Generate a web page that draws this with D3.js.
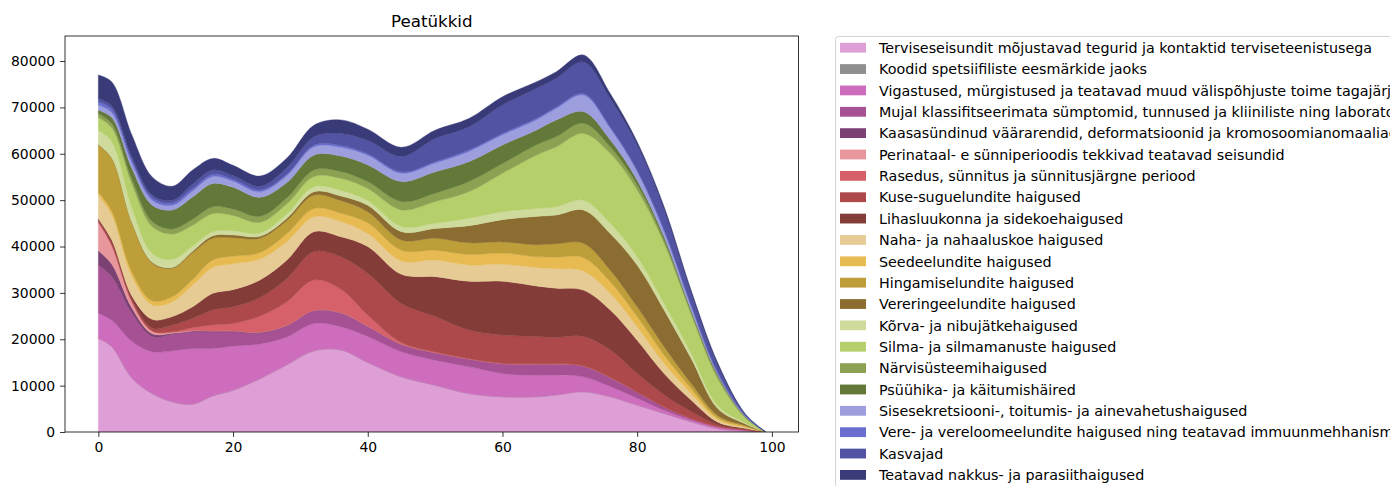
<!DOCTYPE html>
<html>
<head>
<meta charset="utf-8">
<script src="https://cdn.jsdelivr.net/npm/d3@7"></script>
<style>
  body { margin: 0; background: #ffffff; }
  svg { display: block; font-family: "DejaVu Sans", sans-serif; }
</style>
</head>
<body>
<svg id="chart" width="1390" height="486"></svg>
<script>
// Age (years) at which each diagnosis-chapter count is given
const ages = [0, 2, 5, 8, 11, 14, 17, 20, 24, 28, 32, 36, 40, 45, 50, 55, 60, 65, 68, 72, 76, 80, 84, 88, 92, 96, 99];

// Counts per chapter, listed from the bottom of the stack upward
const terviseseisundit = [20200, 18400, 11600, 8300, 6500, 6000, 7800, 9000, 11500, 14500, 17500, 17700, 15000, 11900, 10100, 8300, 7600, 7600, 8000, 8700, 7600, 5800, 4000, 2200, 700, 200, 5];
const koodid = [0, 0, 0, 0, 0, 0, 0, 0, 0, 0, 0, 0, 0, 0, 0, 0, 0, 0, 0, 0, 0, 0, 0, 0, 0, 0, 0];
const vigastused = [5400, 5700, 7900, 9000, 11000, 12000, 10200, 9500, 7500, 6000, 5900, 5000, 5600, 5400, 5400, 5800, 5000, 4700, 4300, 3200, 2200, 1500, 700, 400, 300, 150, 5];
const symptomid = [10400, 9400, 6100, 3300, 3600, 3600, 3600, 3100, 2300, 2400, 2700, 2900, 2100, 1500, 1500, 1600, 2100, 2300, 2300, 2300, 1900, 1300, 700, 300, 150, 100, 5];
const kaasasyndinud = [3100, 2700, 1100, 600, 200, 200, 200, 200, 200, 100, 100, 100, 100, 100, 100, 50, 50, 50, 50, 50, 50, 50, 50, 30, 10, 5, 0];
const perinataal = [6200, 4100, 1400, 600, 200, 100, 0, 0, 0, 0, 0, 0, 0, 0, 0, 0, 0, 0, 0, 0, 0, 0, 0, 0, 0, 0, 0];
const rasedus = [0, 0, 0, 0, 100, 600, 1300, 1600, 3500, 5100, 6600, 5100, 2400, 400, 150, 100, 100, 50, 50, 50, 50, 0, 0, 0, 0, 0, 0];
const kuseSuguelundid = [400, 500, 500, 600, 1500, 2000, 3200, 3600, 4000, 5000, 6100, 7000, 9000, 8400, 7650, 6150, 6050, 5900, 5700, 6300, 5900, 3950, 2550, 1470, 340, 145, 5];
const lihasluukond = [300, 600, 700, 1900, 1800, 2500, 3600, 3700, 3800, 4000, 4300, 4300, 5800, 6300, 8600, 10500, 11600, 10900, 10600, 10000, 8600, 7200, 4600, 2500, 600, 200, 10];
const nahk = [5100, 5400, 4200, 3100, 3200, 4700, 5600, 5600, 4500, 4000, 3200, 3300, 2800, 2900, 3600, 3500, 3700, 4000, 4200, 4100, 3600, 2900, 2200, 1400, 500, 200, 5];
const seedeelundid = [600, 800, 900, 900, 1100, 1200, 1600, 1600, 1400, 1700, 1800, 1800, 2300, 2300, 2100, 2300, 2400, 2300, 2500, 2900, 2500, 2200, 1800, 1100, 400, 200, 5];
const hingamiselundid = [10200, 11400, 10600, 8100, 6100, 5800, 4700, 4000, 3100, 2800, 2900, 2700, 2400, 2200, 2600, 2500, 2400, 2600, 2900, 3100, 2500, 2100, 1800, 1100, 500, 200, 5];
const vereringeelundid = [100, 100, 100, 200, 200, 300, 500, 600, 400, 500, 700, 1000, 1400, 1800, 2100, 3700, 4800, 6100, 6200, 7200, 7900, 9000, 7900, 5400, 1500, 400, 10];
const korv = [3100, 3500, 3200, 1900, 1700, 1100, 900, 900, 700, 900, 1100, 1200, 1000, 1100, 1100, 1600, 1700, 1700, 1800, 2100, 2200, 1800, 1400, 1100, 600, 200, 5];
const silm = [2700, 3000, 5200, 5800, 5500, 4500, 3900, 3300, 2300, 2200, 2200, 2600, 2600, 3600, 4700, 5700, 8300, 11500, 12900, 14400, 15100, 14400, 13000, 8400, 5800, 1100, 20];
const narvisysteem = [900, 900, 1000, 1100, 1100, 1300, 1500, 1400, 1300, 1300, 1400, 1500, 1500, 1800, 1800, 2200, 2100, 2200, 2200, 2200, 1400, 1100, 700, 500, 500, 200, 5];
const psyyhika = [700, 1300, 2300, 3500, 4100, 4800, 5000, 4700, 4100, 3300, 3200, 3300, 3600, 4300, 4600, 4300, 4000, 3200, 3600, 2500, 1500, 1000, 700, 400, 300, 100, 3];
const sisesekretsioon = [1100, 1100, 1200, 1100, 1000, 1300, 1500, 1300, 1200, 1500, 1800, 1900, 2100, 1800, 1900, 2200, 2200, 2200, 2500, 3600, 2500, 1900, 1200, 900, 300, 150, 2];
const veri = [700, 700, 600, 500, 500, 500, 500, 400, 400, 300, 350, 400, 300, 300, 300, 300, 300, 300, 300, 300, 300, 300, 300, 200, 200, 50, 2];
const kasvajad = [700, 700, 700, 600, 600, 1000, 900, 800, 800, 1400, 1800, 2600, 2900, 3300, 5000, 5000, 6100, 6500, 6200, 6800, 6100, 5400, 4300, 2500, 1500, 300, 5];
const nakkus = [5100, 5200, 4700, 3900, 3000, 3000, 2500, 2200, 2200, 2100, 2500, 2900, 2400, 2000, 1800, 1800, 1800, 1400, 1400, 1500, 1100, 700, 700, 700, 600, 100, 3];

const seriesValues = [terviseseisundit, koodid, vigastused, symptomid, kaasasyndinud, perinataal, rasedus,
  kuseSuguelundid, lihasluukond, nahk, seedeelundid, hingamiselundid, vereringeelundid, korv, silm,
  narvisysteem, psyyhika, sisesekretsioon, veri, kasvajad, nakkus];

const seriesNames = [
  "Terviseseisundit mõjustavad tegurid ja kontaktid terviseteenistusega",
  "Koodid spetsiifiliste eesmärkide jaoks",
  "Vigastused, mürgistused ja teatavad muud välispõhjuste toime tagajärjed",
  "Mujal klassifitseerimata sümptomid, tunnused ja kliiniliste ning laboratoorsete uuringute leiud",
  "Kaasasündinud väärarendid, deformatsioonid ja kromosoomianomaaliad",
  "Perinataal- e sünniperioodis tekkivad teatavad seisundid",
  "Rasedus, sünnitus ja sünnitusjärgne periood",
  "Kuse-suguelundite haigused",
  "Lihasluukonna ja sidekoehaigused",
  "Naha- ja nahaaluskoe haigused",
  "Seedeelundite haigused",
  "Hingamiselundite haigused",
  "Vereringeelundite haigused",
  "Kõrva- ja nibujätkehaigused",
  "Silma- ja silmamanuste haigused",
  "Närvisüsteemihaigused",
  "Psüühika- ja käitumishäired",
  "Sisesekretsiooni-, toitumis- ja ainevahetushaigused",
  "Vere- ja vereloomeelundite haigused ning teatavad immuunmehhanismihäired",
  "Kasvajad",
  "Teatavad nakkus- ja parasiithaigused"
];

const seriesColors = ["#de9ed6", "#8f8f8f", "#ce6dbd", "#a55194", "#7b4173", "#e7969c", "#d6616b",
  "#ad494a", "#843c39", "#e7cb94", "#e7ba52", "#bd9e39", "#8c6d31", "#cedb9c", "#b5cf6b",
  "#8ca252", "#637939", "#9c9ede", "#6b6ecf", "#5254a3", "#393b79"];

const xTicks = [0, 20, 40, 60, 80, 100];
const yTicks = [0, 10000, 20000, 30000, 40000, 50000, 60000, 70000, 80000];
const titleText = "Peatükkid";

// ---- layout ----
const svg = d3.select("#chart");
const plot = { left: 65, right: 798.5, top: 36, bottom: 432 };
const fontSize = 13.9;
const legendFontSize = 14.3;

const x = d3.scaleLinear().domain([-4.95, 103.95]).range([plot.left, plot.right]);
const y = d3.scaleLinear().domain([0, 85400]).range([plot.bottom, plot.top]);

// one row per age, one column per chapter
const keys = seriesNames.map((_, i) => "s" + i);
const rows = ages.map((age, j) => {
  const r = { age };
  seriesValues.forEach((vals, i) => { r[keys[i]] = vals[j]; });
  return r;
});

const stacked = d3.stack().keys(keys).order(d3.stackOrderNone).offset(d3.stackOffsetNone)(rows);

svg.append("defs").append("clipPath").attr("id", "plotClip")
  .append("rect")
  .attr("x", plot.left).attr("y", plot.top)
  .attr("width", plot.right - plot.left).attr("height", plot.bottom - plot.top);

const area = d3.area()
  .x(d => x(d.data.age))
  .y0(d => y(d[0]))
  .y1(d => y(d[1]))
  .curve(d3.curveCatmullRom.alpha(0.5));

svg.append("g").attr("clip-path", "url(#plotClip)")
  .selectAll("path")
  .data(stacked)
  .join("path")
  .attr("d", area)
  .attr("fill", (d, i) => seriesColors[i])
  .attr("stroke", (d, i) => seriesColors[i])
  .attr("stroke-width", 0.4);

// ---- axes ----
const xAxis = svg.append("g")
  .attr("transform", `translate(0,${plot.bottom})`)
  .call(d3.axisBottom(x).tickValues(xTicks).tickFormat(d3.format("d")).tickSize(4.9).tickPadding(4.9));
const yAxis = svg.append("g")
  .attr("transform", `translate(${plot.left},0)`)
  .call(d3.axisLeft(y).tickValues(yTicks).tickFormat(d3.format("d")).tickSize(4.9).tickPadding(4.9));

[xAxis, yAxis].forEach(g => {
  g.select(".domain").remove();
  g.attr("font-family", "DejaVu Sans, sans-serif").attr("font-size", fontSize);
  g.selectAll(".tick line").attr("stroke", "#000").attr("stroke-width", 0.8);
  g.selectAll(".tick text").attr("fill", "#000");
});

// frame around the plotting area
svg.append("rect")
  .attr("x", plot.left).attr("y", plot.top)
  .attr("width", plot.right - plot.left).attr("height", plot.bottom - plot.top)
  .attr("fill", "none").attr("stroke", "#000").attr("stroke-width", 0.8);

// ---- title ----
svg.append("text")
  .attr("x", (plot.left + plot.right) / 2)
  .attr("y", 27)
  .attr("text-anchor", "middle")
  .attr("font-size", 16.7)
  .attr("fill", "#000")
  .text(titleText);

// ---- legend (runs past the right edge of the page) ----
const legend = svg.append("g");
legend.append("rect")
  .attr("x", 835.5).attr("y", 36.5)
  .attr("width", 700).attr("height", 480)
  .attr("rx", 3).attr("ry", 3)
  .attr("fill", "#fff").attr("fill-opacity", 0.8)
  .attr("stroke", "#d5d5d5").attr("stroke-width", 1);

const rowStep = 21.36;
const firstRow = 47.7;
const items = legend.selectAll("g.item")
  .data(seriesNames)
  .join("g")
  .attr("class", "item")
  .attr("transform", (d, i) => `translate(0,${firstRow + i * rowStep})`);

items.append("rect")
  .attr("x", 840).attr("y", -4.9)
  .attr("width", 26).attr("height", 9.8)
  .attr("fill", (d, i) => seriesColors[i]);

items.append("text")
  .attr("x", 879)
  .attr("y", 5.2)
  .attr("font-size", legendFontSize)
  .attr("fill", "#000")
  .text(d => d);
</script>
</body>
</html>
